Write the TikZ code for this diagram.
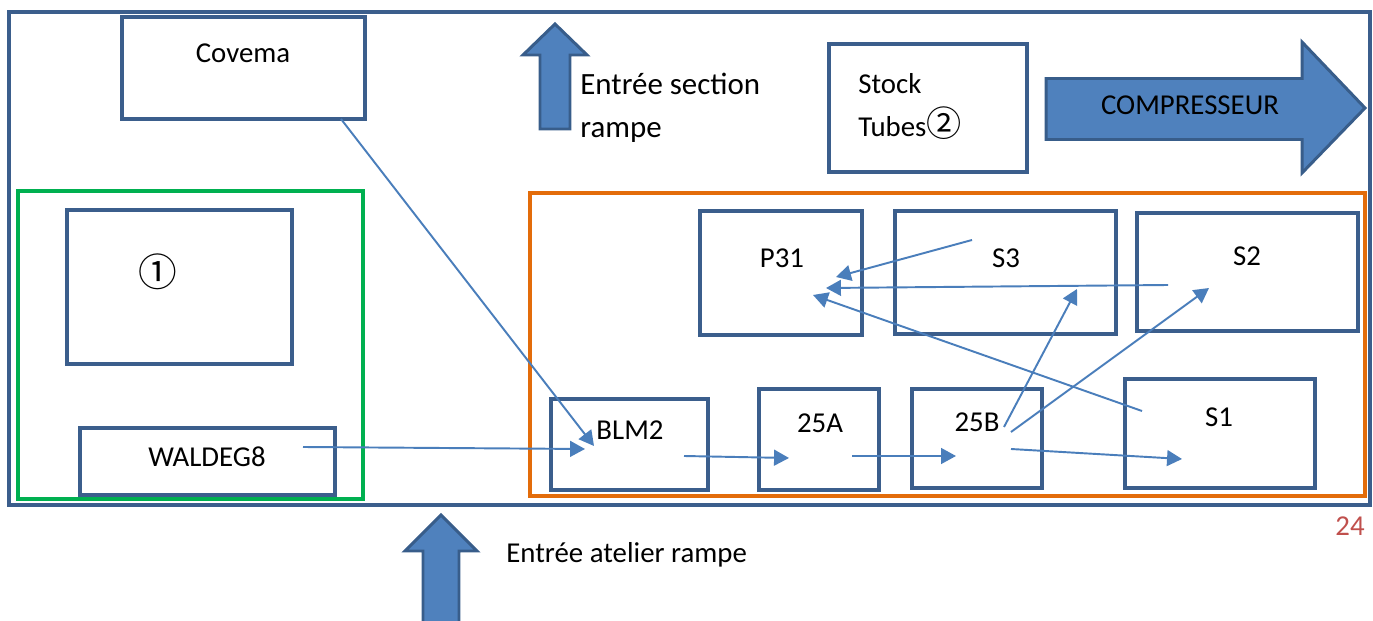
\documentclass[tikz,border=0pt]{standalone}
\usepackage{fontspec}
\setmainfont{Carlito}
\newfontfamily\cjk{Noto Sans CJK SC}
\usetikzlibrary{arrows.meta}
\definecolor{boxc}{RGB}{59,94,140}
\definecolor{afill}{RGB}{79,129,189}
\definecolor{aline}{RGB}{56,93,138}
\definecolor{connc}{RGB}{74,126,187}
\definecolor{grn}{RGB}{0,176,80}
\definecolor{org}{RGB}{227,108,10}
\definecolor{pnum}{RGB}{192,80,77}
\begin{document}
\begin{tikzpicture}[x=0.02cm,y=-0.02cm,
  box/.style={draw=boxc, line width=2.3pt, rectangle, inner sep=0pt, fill=white},
  zone/.style={line width=2.3pt, rectangle, inner sep=0pt},
  lbl/.style={anchor=base, inner sep=0pt, font=\fontsize{16.4}{20}\selectfont},
  txt/.style={anchor=base west, inner sep=0pt, align=left},
  connector/.style={draw=connc, line width=1.1pt, -{Triangle[length=8.5pt,width=9pt]}},
  blockarrow/.style={fill=afill, draw=aline, line width=1.7pt, line join=miter}
]
\useasboundingbox (0,0) rectangle (1373,621);

% outer frame and zones
\node[zone, draw=boxc, minimum width=27.22cm, minimum height=9.86cm] (frame) at (689.5,258.5) {};
\node[zone, draw=grn, minimum width=6.9cm, minimum height=6.16cm] (greenzone) at (190.5,345) {};
\node[zone, draw=org, minimum width=16.7cm, minimum height=6.06cm] (orangezone) at (947.5,344.5) {};

% boxes
\node[box, minimum width=4.86cm, minimum height=2.04cm] (covema) at (243.5,68) {};
\node[box, minimum width=3.96cm, minimum height=2.56cm] (stock) at (928,108) {};
\node[box, minimum width=4.5cm, minimum height=3.08cm] (one) at (179.5,287) {};
\node[box, minimum width=5.1cm, minimum height=1.34cm] (waldeg) at (207.5,461.5) {};
\node[box, minimum width=3.24cm, minimum height=2.48cm] (p31) at (781,273) {};
\node[box, minimum width=4.42cm, minimum height=2.46cm] (s3) at (1005.5,272.5) {};
\node[box, minimum width=4.42cm, minimum height=2.36cm] (s2) at (1247.5,272) {};
\node[box, minimum width=3.14cm, minimum height=1.82cm] (blm2) at (629.5,444.5) {};
\node[box, minimum width=2.4cm, minimum height=2.02cm] (a25) at (819,439.5) {};
\node[box, minimum width=2.6cm, minimum height=1.98cm] (b25) at (977,438.5) {};
\node[box, minimum width=3.8cm, minimum height=2.18cm] (s1) at (1220,433.5) {};

% box labels
\node[lbl] (tcovema) at (243,63) {Covema};
\node[inner sep=0pt, font=\cjk\fontsize{22}{26}\selectfont] (tone) at (158,272) {①};
\node[lbl] (twaldeg) at (207,467) {WALDEG8};
\node[lbl] (tp31) at (782,268) {P31};
\node[lbl] (ts3) at (1006,268) {S3};
\node[lbl] (ts2) at (1247,266) {S2};
\node[lbl] (tblm2) at (630,439) {BLM2};
\node[lbl] (ta25) at (820,433) {25A};
\node[lbl] (tb25) at (977,432) {25B};
\node[lbl] (ts1) at (1219,427) {S1};
\node[txt, font=\fontsize{16.4}{24.9}\selectfont] (tstock) at (858,137) {Stock\\Tubes{\cjk\fontsize{20}{24.9}\selectfont ②}};

% block arrows
\draw[blockarrow] (540,129) -- (540,55) -- (523,55) -- (555,24) -- (587,55) -- (570,55) -- (570,129) -- cycle;
\node[txt, font=\fontsize{17.6}{24.9}\selectfont] (tsection) at (580,138) {Entrée section\\rampe};
\draw[blockarrow] (423,640) -- (423,551) -- (405,551) -- (441,515) -- (477,551) -- (459,551) -- (459,640) -- cycle;
\node[txt, font=\fontsize{16.4}{20}\selectfont] (tatelier) at (506,562) {Entrée atelier rampe};
\draw[blockarrow] (1046,78.5) -- (1302,78.5) -- (1302,42) -- (1365,108) -- (1302,173) -- (1302,139.5) -- (1046,139.5) -- cycle;
\node[lbl] (tcomp) at (1190,115) {COMPRESSEUR};

% page number
\node[lbl, text=pnum] (tpage) at (1350,535) {24};

% connector end points
\coordinate (covemaout) at (341,119);
\coordinate (blm2inA) at (594,446);
\coordinate (waldegout) at (303,447);
\coordinate (blm2inB) at (585,449);
\coordinate (blm2out) at (684,456);
\coordinate (a25in) at (789,458);
\coordinate (a25out) at (852,456);
\coordinate (b25in) at (956,456);
\coordinate (b25outA) at (1011,449);
\coordinate (s1in) at (1182,459);
\coordinate (b25outB) at (1004,427);
\coordinate (s3in) at (1077,289);
\coordinate (b25outC) at (1011,432);
\coordinate (s2in) at (1209,288);
\coordinate (s1out) at (1142,411);
\coordinate (p31inA) at (813,295);
\coordinate (s2out) at (1168,285);
\coordinate (p31inB) at (826,288);
\coordinate (s3out) at (972,240);
\coordinate (p31inC) at (836,277);

% connectors
\draw[connector] (covemaout) -- (blm2inA);
\draw[connector] (waldegout) -- (blm2inB);
\draw[connector] (blm2out) -- (a25in);
\draw[connector] (a25out) -- (b25in);
\draw[connector] (b25outA) -- (s1in);
\draw[connector] (b25outB) -- (s3in);
\draw[connector] (b25outC) -- (s2in);
\draw[connector] (s1out) -- (p31inA);
\draw[connector] (s2out) -- (p31inB);
\draw[connector] (s3out) -- (p31inC);
\end{tikzpicture}
\end{document}
